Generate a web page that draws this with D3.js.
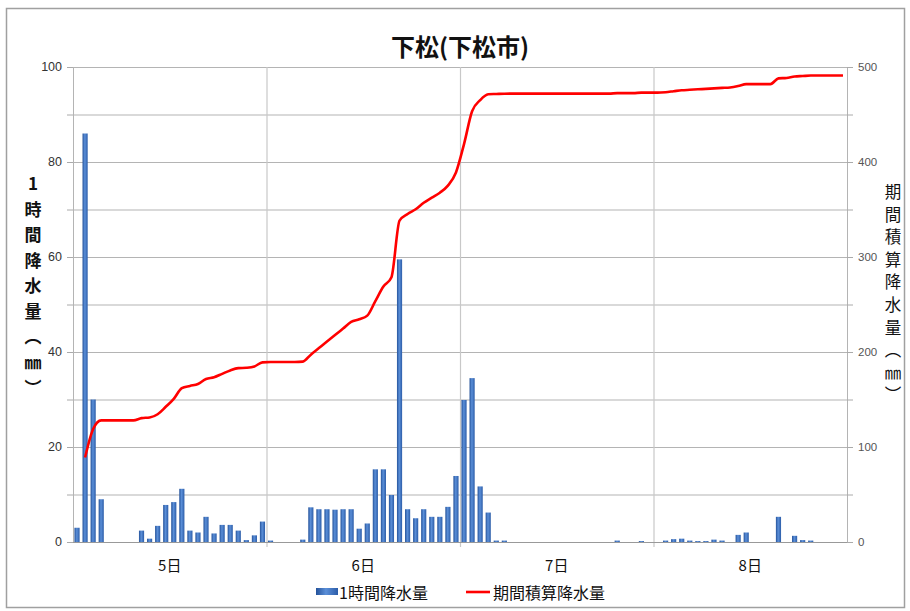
<!DOCTYPE html>
<html>
<head>
<meta charset="utf-8">
<script src="https://cdn.jsdelivr.net/npm/d3@7"></script>
<style>
  body { margin: 0; background: #fff; }
  svg { display: block; font-family: "Noto Sans CJK JP", "Liberation Sans", sans-serif; }
</style>
</head>
<body>
<div class="rain-plot"></div>
<script>
// days on the x axis (24 hourly bars each)
const days = ['5日', '6日', '7日', '8日']

// hourly rainfall (mm), 96 hours
const hourly = [
    3, 86, 30, 9, 0, 0, 0, 0, 2.4, 0.7, 3.4, 7.8, 8.4, 11.2, 2.4, 2.0, 5.3, 1.8, 3.6, 3.6, 2.4, 0.4, 1.4, 4.3,
    0.3, 0, 0, 0, 0.5, 7.3, 6.9, 6.9, 6.8, 6.9, 6.9, 2.8, 3.9, 15.3, 15.3, 9.9, 59.5, 6.9, 5.0, 6.9, 5.3, 5.3, 7.4, 13.9,
    29.9, 34.5, 11.7, 6.2, 0.3, 0.3, 0, 0, 0, 0, 0, 0, 0, 0, 0, 0, 0, 0, 0, 0.3, 0, 0, 0.2, 0, 0,
    0.3, 0.6, 0.7, 0.3, 0.2, 0.2, 0.5, 0.3, 0, 1.5, 2.0, 0, 0, 0, 5.3, 0, 1.3, 0.4, 0.3, 0, 0, 0, 0
]

// accumulated rainfall for the period (mm)
const cumulative = [
    null, 89, 119, 128, 128, 128, 128, 128, 130.4, 131.1, 134.5, 142.3, 150.7, 161.9, 164.3, 166.3, 171.6, 173.4, 177, 180.6, 183, 183.4, 184.8, 189.1,
    189.4, 189.4, 189.4, 189.4, 189.9, 197.2, 204.1, 211, 217.8, 224.7, 231.6, 234.4, 238.3, 253.6, 268.9, 278.8, 338.3, 345.2, 350.2, 357.1, 362.4, 367.7, 375.1, 389,
    418.9, 453.4, 465.1, 471.3, 471.6, 471.9, 472, 472, 472, 472, 472, 472, 472, 472, 472, 472, 472, 472, 472, 472.5, 472.5, 472.5, 473, 473,
    473, 473.5, 474.5, 475.5, 476, 476.5, 477, 477.5, 478, 478.5, 480, 482, 482, 482, 482, 488, 488.5, 490, 490.5, 491, 491, 491, 491, 491
]

const leftTicks = [0, 20, 40, 60, 80, 100]
const rightTicks = [0, 100, 200, 300, 400, 500]
const leftTitle = ['1', '時', '間', '降', '水', '量', '︵', '㎜', '︶']
const rightTitle = ['期', '間', '積', '算', '降', '水', '量', '︵', '㎜', '︶']

const width = 910
const height = 611
const plot = {left: 73, right: 847, top: 67, bottom: 542}

const svg = d3.select('.rain-plot').append('svg').attr('width', width).attr('height', height)

// outer frame
svg.append('rect')
    .attr('x', 6.5).attr('y', 8.5).attr('width', 898).attr('height', 599)
    .attr('fill', 'white').attr('stroke', '#a0a0a0').attr('stroke-width', 1.5)

const x = d3.scaleBand().domain(d3.range(hourly.length)).range([plot.left, plot.right]).paddingInner(0.36).paddingOuter(0.18)
const step = x.step()
const yL = d3.scaleLinear().domain([0, 100]).range([plot.bottom, plot.top])
const yR = d3.scaleLinear().domain([0, 500]).range([plot.bottom, plot.top])

// horizontal gridlines every 10 mm
svg.selectAll('line.hgrid')
    .data(d3.range(10, 101, 10))
    .enter()
    .append('line')
    .attr('x1', plot.left).attr('x2', plot.right)
    .attr('y1', d => yL(d) + 0.5).attr('y2', d => yL(d) + 0.5)
    .attr('stroke', '#b4b4b4').attr('stroke-width', 1.2)

// day separators
const dayStart = (i) => plot.left + (plot.right - plot.left) * i / days.length
svg.selectAll('line.vgrid')
    .data(d3.range(1, days.length))
    .enter()
    .append('line')
    .attr('x1', d => dayStart(d) + 0.5).attr('x2', d => dayStart(d) + 0.5)
    .attr('y1', plot.top).attr('y2', plot.bottom + 5)
    .attr('stroke', '#c8c8c8').attr('stroke-width', 1.2)

// plot borders
svg.append('line').attr('x1', plot.left + 0.5).attr('x2', plot.left + 0.5)
    .attr('y1', plot.top).attr('y2', plot.bottom).attr('stroke', '#b4b4b4')
svg.append('line').attr('x1', plot.right + 0.5).attr('x2', plot.right + 0.5)
    .attr('y1', plot.top).attr('y2', plot.bottom).attr('stroke', '#b4b4b4')
svg.append('line').attr('x1', plot.left).attr('x2', plot.right)
    .attr('y1', plot.bottom + 0.5).attr('y2', plot.bottom + 0.5).attr('stroke', '#999')

// tick marks, both sides
svg.selectAll('line.lt')
    .data(d3.range(0, 101, 10))
    .enter()
    .append('line')
    .attr('x1', plot.left - 6).attr('x2', plot.left)
    .attr('y1', d => yL(d) + 0.5).attr('y2', d => yL(d) + 0.5)
    .attr('stroke', '#aaa')
svg.selectAll('line.rt')
    .data(d3.range(0, 501, 50))
    .enter()
    .append('line')
    .attr('x1', plot.right).attr('x2', plot.right + 6)
    .attr('y1', d => yR(d) + 0.5).attr('y2', d => yR(d) + 0.5)
    .attr('stroke', '#aaa')

// bars
const grad = svg.append('defs').append('linearGradient').attr('id', 'barGrad')
    .attr('x1', '0%').attr('x2', '100%').attr('y1', '0%').attr('y2', '0%')
grad.append('stop').attr('offset', '0%').attr('stop-color', '#24529a')
grad.append('stop').attr('offset', '45%').attr('stop-color', '#5b8fd8')
grad.append('stop').attr('offset', '100%').attr('stop-color', '#2b5ca8')

svg.selectAll('rect.bar')
    .data(hourly)
    .enter()
    .append('rect')
    .attr('class', 'bar')
    .attr('x', (d, i) => x(i))
    .attr('y', d => yL(d))
    .attr('width', x.bandwidth())
    .attr('height', d => yL(0) - yL(d))
    .attr('fill', 'url(#barGrad)')

// accumulated line
const line = d3.line()
    .defined(d => d !== null)
    .x((d, i) => x(i) + x.bandwidth() / 2)
    .y(d => yR(d))
    .curve(d3.curveMonotoneX)
svg.append('path')
    .datum(cumulative)
    .attr('d', line)
    .attr('fill', 'none')
    .attr('stroke', '#ff0000')
    .attr('stroke-width', 2.6)
    .attr('stroke-linejoin', 'round')

// tick labels
svg.selectAll('text.lt')
    .data(leftTicks)
    .enter()
    .append('text')
    .text(d => d)
    .attr('x', plot.left - 11)
    .attr('y', d => yL(d) + 4)
    .attr('text-anchor', 'end')
    .attr('font-family', 'Liberation Sans, sans-serif')
    .attr('font-size', 12.5)
    .attr('fill', '#333')
svg.selectAll('text.rt')
    .data(rightTicks)
    .enter()
    .append('text')
    .text(d => d)
    .attr('x', plot.right + 11)
    .attr('y', d => yR(d) + 4)
    .attr('text-anchor', 'start')
    .attr('font-family', 'Liberation Sans Narrow, Liberation Sans, sans-serif')
    .attr('font-size', 11.5)
    .attr('fill', '#555')

// day labels
svg.selectAll('text.day')
    .data(days)
    .enter()
    .append('text')
    .text(d => d)
    .attr('x', (d, i) => x(i * 24) + step * 11.5 + x.bandwidth() / 2)
    .attr('y', 571)
    .attr('text-anchor', 'middle')
    .attr('font-size', 15)
    .attr('fill', '#111')

// title
svg.append('text')
    .text('下松(下松市)')
    .attr('x', 460)
    .attr('y', 56)
    .attr('text-anchor', 'middle')
    .attr('font-size', 24)
    .attr('font-weight', 'bold')
    .attr('fill', '#111')

// axis titles, stacked vertically
svg.selectAll('text.ltitle')
    .data(leftTitle)
    .enter()
    .append('text')
    .text(d => d)
    .attr('x', 33)
    .attr('y', (d, i) => 190 + i * 25.5)
    .attr('text-anchor', 'middle')
    .attr('font-size', 17)
    .attr('font-weight', 'bold')
    .attr('fill', '#111')
svg.selectAll('text.rtitle')
    .data(rightTitle)
    .enter()
    .append('text')
    .text(d => d)
    .attr('x', 893)
    .attr('y', (d, i) => 198 + i * 22.6)
    .attr('text-anchor', 'middle')
    .attr('font-size', 16.5)
    .attr('fill', '#111')

// legend
svg.append('rect').attr('x', 316).attr('y', 588).attr('width', 22).attr('height', 7).attr('fill', 'url(#barGrad)')
svg.append('text').text('1時間降水量').attr('x', 339).attr('y', 599)
    .attr('font-size', 16).attr('fill', '#111')
svg.append('line').attr('x1', 466).attr('x2', 490).attr('y1', 592).attr('y2', 592)
    .attr('stroke', '#ff0000').attr('stroke-width', 2.6)
svg.append('text').text('期間積算降水量').attr('x', 493).attr('y', 599)
    .attr('font-size', 16).attr('fill', '#111')
</script>
</body>
</html>
